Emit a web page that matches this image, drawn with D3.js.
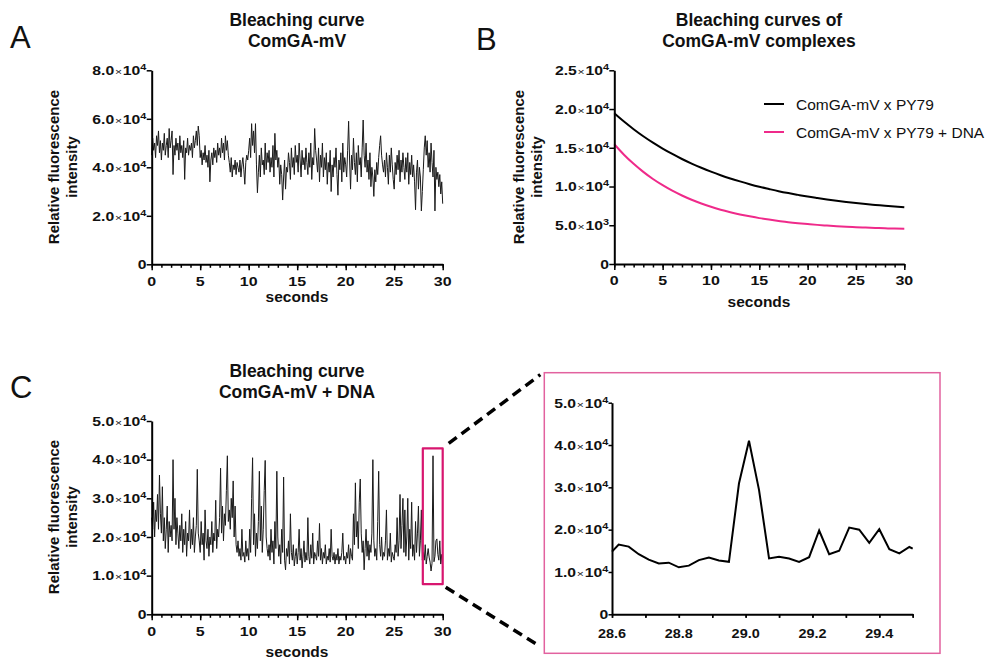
<!DOCTYPE html>
<html><head><meta charset="utf-8">
<script src="https://cdn.jsdelivr.net/npm/d3@7"></script>
<style>
body{margin:0;background:#fff}
svg{display:block}
text{font-family:"Liberation Sans",Arial,Helvetica,sans-serif}
</style>
</head><body>
<svg id="chart" width="991" height="662"></svg>
<script>
// ---------------- DATA ----------------
const sampleStep = 0.1; // seconds between trace samples (panels A and C)

const traceA = [
45000,52000,47000,50000,44000,53000,49000,55000,46000,51000,
43000,50000,47000,54000,45000,49000,52000,44000,56000,48000,
51000,55000,37000,49000,45000,52000,47000,50000,43000,53000,
46000,49000,44000,51000,35000,48000,46000,52000,45000,49000,
47000,50000,44000,53000,48000,51000,55000,49000,57000,53000,
44000,47000,41000,46000,43000,49000,42000,45000,40000,47000,
34000,43000,46000,41000,48000,44000,47000,42000,50000,45000,
48000,44000,52000,46000,50000,43000,53000,47000,51000,45000,
42000,38000,44000,36000,41000,39000,43000,37000,42000,40000,
38000,43000,36000,41000,44000,39000,33000,42000,45000,43000,
47000,52000,44000,58000,49000,55000,46000,58000,41000,29500,
38000,45000,36000,48000,41000,43000,37000,50000,39000,46000,
42000,47000,38000,44000,40000,49000,36000,54000,43000,47000,
40000,44000,33000,41000,37000,26500,36000,43000,31000,40000,
38000,46000,42000,35000,48000,40000,44000,37000,49000,42000,
45000,38000,50000,43000,36000,47000,41000,44000,39000,48000,
42000,37000,46000,40000,50000,35000,44000,41000,56000,47000,
43000,38000,48000,34000,45000,40000,50000,36000,44000,39000,
46000,33000,42000,38000,47000,30000,41000,36000,44000,40000,
48000,37000,28500,43000,39000,46000,34000,50000,38000,44000,
41000,36000,47000,59000,43000,31000,45000,39000,52000,42000,
37000,46000,34000,49000,41000,44000,36000,48000,59500,45000,
40000,50000,38000,43000,35000,46000,32000,40000,36000,28000,
39000,34000,42000,37000,44000,49000,53000,45000,41000,38000,
43000,36000,46000,40000,33000,45000,38000,48000,41000,35000,
31000,42000,37000,45000,39000,47000,34000,43000,38000,46000,
40000,35000,44000,38000,46000,33000,42000,37000,45000,36000,
41000,34000,22500,38000,43000,31000,40000,36000,22000,30000,
39000,48000,53000,45000,51000,40000,46000,38000,50000,42000,
36000,47000,22000,40000,35000,38000,32000,37000,29000,34000,
25000];

const traceC = [
25000,22000,29000,20000,27000,24000,31000,22000,36000,26000,
21000,33000,19000,25000,17000,22000,28000,16000,24000,20000,
23000,19000,40000,22000,30000,18000,25000,21000,17000,23000,
19000,26000,16000,22000,18000,24000,15000,21000,19000,27000,
17000,22000,18000,25000,16000,20000,23000,37500,21000,19000,
16000,24000,18000,21000,14000,27000,19000,17000,22000,15000,
20000,18000,24000,16000,21000,19000,29500,17000,22000,20000,
25000,37800,21000,28000,19000,26000,23000,32000,41000,24000,
27000,22000,30000,25000,34500,20000,28000,18000,16000,19000,
15000,17000,14000,22000,15000,16000,13500,19000,15000,17000,
14000,22000,16000,30000,40500,18000,26000,15000,21000,17000,
24000,37000,19000,28000,16000,22000,32000,39800,20000,17000,
15000,18000,14000,22000,16000,19000,13000,24000,17000,37000,
20000,15000,18000,13000,22000,16000,35500,14000,11500,17000,
15000,19000,13000,26000,16000,14000,18000,12500,15000,17000,
13000,16000,22000,14000,17000,12000,15000,19000,13500,16000,
14000,25000,15000,13000,18000,14500,21000,13000,16000,15000,
14000,19000,15000,23500,14000,17000,13000,16000,14500,18000,
13000,15000,14000,17000,13500,22000,15000,14000,16000,13000,
15500,14000,17000,13000,15000,14000,16000,21000,14000,15000,
13000,16000,14500,18000,13000,17000,15000,14000,26000,18000,
34000,20000,24000,17000,29000,35000,21000,16000,19000,11500,
17000,22000,15000,19000,14000,18000,16000,21000,40000,19000,
15000,17000,14000,24000,37000,18000,15000,20000,14000,16000,
15000,19000,27000,14000,17000,15000,21000,13500,16000,15000,
14000,18000,16000,25000,15000,19000,31000,17000,23000,30000,
16000,27000,15000,20000,30000,14000,22000,17000,29000,15000,
18000,14000,24000,16000,21000,28000,15000,19000,27000,14000,
16000,14000,18000,13000,15000,17000,14800,13500,11200,13200,
41000,13600,15000,19000,19500,15500,14000,19000,13000,15500,
12000];

const curveSeconds = [0,1,2,3,4,5,6,7,8,9,10,11,12,13,14,15,16,17,18,19,20,21,22,23,24,25,26,27,28,29,30];
const curvePY79 = [19450,18380,17400,16490,15660,14900,14200,13550,12960,12420,11920,11460,11040,10660,10300,9970,9680,9400,9150,8920,8700,8510,8330,8160,8010,7870,7740,7630,7520,7420,7330];
const curvePY79DNA = [15460,14110,12930,11890,10970,10170,9460,8840,8290,7810,7380,7010,6690,6400,6150,5920,5730,5560,5400,5270,5160,5050,4960,4880,4810,4750,4700,4650,4610,4570,4540];
const legendLabels = ["ComGA-mV x PY79", "ComGA-mV x PY79 + DNA"];

const zoomSeconds = [28.60,28.62,28.65,28.68,28.71,28.74,28.77,28.80,28.83,28.86,28.89,28.92,28.95,28.98,29.01,29.04,29.07,29.10,29.13,29.16,29.19,29.22,29.25,29.28,29.31,29.34,29.37,29.40,29.43,29.46,29.49,29.50];
const zoomValues = [14800,16500,16000,14200,12900,12000,12200,11100,11500,12800,13400,12700,12400,30900,41000,29400,13200,13600,13200,12400,13500,19800,14200,15000,20500,20000,16900,20100,15400,14400,15900,15500];

// highlighted window in panel C (data units)
const highlightSeconds = [27.95, 30.0];
const highlightValues = [7800, 42900];

const yTicksA = [0, 20000, 40000, 60000, 80000];
const yTicksB = [0, 5000, 10000, 15000, 20000, 25000];
const yTicksC = [0, 10000, 20000, 30000, 40000, 50000];
const yTicksZoom = [0, 10000, 20000, 30000, 40000, 50000];
const xMajorSec = [0, 5, 10, 15, 20, 25, 30];
const xMinorSec = [0,1,2,3,4,5,6,7,8,9,10,11,12,13,14,15,16,17,18,19,20,21,22,23,24,25,26,27,28,29,30];
const xTicksZoom = [28.6, 28.7, 28.8, 28.9, 29.0, 29.1, 29.2, 29.3, 29.4, 29.5];
const xLabelsZoom = [28.6, 28.8, 29.0, 29.2, 29.4];

const titleA = ["Bleaching curve", "ComGA-mV"];
const titleB = ["Bleaching curves of", "ComGA-mV complexes"];
const titleC = ["Bleaching curve", "ComGA-mV + DNA"];
const yTitle = ["Relative fluorescence", "intensity"];
const xTitle = "seconds";

// ---------------- DRAWING ----------------
const svg = d3.select("#chart");
const PINK = "#ef2a8a";
const RECT_PINK = "#d8166f";
const BOX_PINK = "#e2629f";

function sciParts(v){
  const e = Math.floor(Math.log10(v) + 1e-9);
  return {m: (v / Math.pow(10, e)).toFixed(1), e: String(e)};
}

function yAxis(y, xPos, ticks, tickLen){
  const g = svg.append("g").attr("transform", `translate(${xPos},0)`)
    .call(d3.axisLeft(y).tickValues(ticks).tickSize(tickLen).tickSizeOuter(0).tickFormat(""));
  g.select(".domain").attr("stroke", "#000").attr("stroke-width", 2);
  g.selectAll(".tick line").attr("stroke", "#000").attr("stroke-width", 1.5);
  g.selectAll(".tick").each(function(v){
    const tk = d3.select(this);
    tk.select("text").remove();
    const t = tk.append("g").attr("transform", `translate(${-tickLen - 0.3},4.3) scale(1.28,1)`)
      .append("text").attr("text-anchor", "end").attr("font-size", 12.3)
      .attr("font-weight", "bold").attr("fill", "#111");
    if (v === 0) { t.text("0"); return; }
    const p = sciParts(v);
    t.append("tspan").text(p.m);
    t.append("tspan").attr("font-weight", "normal").attr("font-size", 9.5).attr("dx", 0.6).text("×");
    t.append("tspan").attr("dx", 0.6).text("10");
    t.append("tspan").attr("font-size", 8.5).attr("dy", -5).text(p.e);
  });
  return g;
}

function xAxis(x, yPos, minor, major, labels, fmt, opts){
  const gMin = svg.append("g").attr("transform", `translate(0,${yPos})`)
    .call(d3.axisBottom(x).tickValues(minor).tickSize(opts.minLen).tickSizeOuter(0).tickFormat(""));
  gMin.select(".domain").attr("stroke", "#000").attr("stroke-width", 2);
  gMin.selectAll(".tick line").attr("stroke", "#000").attr("stroke-width", 1.5);
  const gMaj = svg.append("g").attr("transform", `translate(0,${yPos})`)
    .call(d3.axisBottom(x).tickValues(major).tickSize(opts.majLen).tickSizeOuter(0).tickFormat(""));
  gMaj.select(".domain").remove();
  gMaj.selectAll(".tick line").attr("stroke", "#000").attr("stroke-width", 1.5);
  const lab = svg.append("g");
  labels.forEach(v => {
    lab.append("g").attr("transform", `translate(${x(v)},${yPos + opts.labelDy}) scale(${opts.scale},1)`)
      .append("text").attr("text-anchor", "middle").attr("font-size", opts.size)
      .attr("font-weight", "bold").attr("fill", "#111").text(fmt(v));
  });
}

function titleBlock(lines, cx, y1, y2){
  const t = svg.append("text").attr("text-anchor", "middle").attr("font-size", 17.5)
    .attr("font-weight", "bold").attr("fill", "#111");
  t.append("tspan").attr("x", cx).attr("y", y1).text(lines[0]);
  t.append("tspan").attr("x", cx).attr("y", y2).text(lines[1]);
}

function yTitleBlock(xBase1, xBase2, cy){
  [xBase1, xBase2].forEach((xb, i) => {
    svg.append("text").attr("transform", `translate(${xb},${cy}) rotate(-90)`)
      .attr("text-anchor", "middle").attr("font-size", 15).attr("font-weight", "bold")
      .attr("fill", "#111").text(yTitle[i]);
  });
}

function panelLetter(ch, x, y){
  svg.append("text").attr("x", x).attr("y", y).attr("font-size", 31)
    .attr("fill", "#111").text(ch);
}

function xTitleText(cx, y){
  svg.append("text").attr("x", cx).attr("y", y).attr("text-anchor", "middle")
    .attr("font-size", 15.5).attr("font-weight", "bold").attr("fill", "#111").text(xTitle);
}

const traceStyle = p => p.attr("fill", "none").attr("stroke", "#1a1a1a")
  .attr("stroke-width", 1).attr("stroke-linejoin", "round");

// ---- Panel A ----
const xA = d3.scaleLinear().domain([0, 30]).range([151.7, 442.7]);
const yA = d3.scaleLinear().domain([0, 80000]).range([264.3, 70.3]);
svg.append("path").datum(traceA)
  .attr("d", d3.line().x((d, i) => xA(i * sampleStep)).y(d => yA(d))).call(traceStyle);
yAxis(yA, 151.7, yTicksA, 5);
xAxis(xA, 264.3, xMinorSec, xMajorSec, xMajorSec, d => String(d), {minLen: 3.5, majLen: 6, labelDy: 21.3, size: 12.5, scale: 1.28});
titleBlock(titleA, 297, 26, 46.5);
yTitleBlock(59, 77, 167);
panelLetter("A", 10, 48);
xTitleText(297, 302);

// ---- Panel B ----
const xB = d3.scaleLinear().domain([0, 30]).range([614.3, 904.3]);
const yB = d3.scaleLinear().domain([0, 25000]).range([264, 70.3]);
const lineB = d3.line().x((d, i) => xB(curveSeconds[i])).y(d => yB(d)).curve(d3.curveMonotoneX);
svg.append("path").datum(curvePY79).attr("d", lineB).attr("fill", "none").attr("stroke", "#000").attr("stroke-width", 2);
svg.append("path").datum(curvePY79DNA).attr("d", lineB).attr("fill", "none").attr("stroke", PINK).attr("stroke-width", 2);
yAxis(yB, 614.3, yTicksB, 5);
xAxis(xB, 264, xMinorSec, xMajorSec, xMajorSec, d => String(d), {minLen: 3.5, majLen: 6, labelDy: 21.3, size: 12.5, scale: 1.28});
titleBlock(titleB, 759, 26, 46.5);
yTitleBlock(524, 542, 167);
panelLetter("B", 476, 50);
xTitleText(759, 307);
// legend
[["#000", 104], [PINK, 132]].forEach(([c, ly], i) => {
  svg.append("line").attr("x1", 764).attr("x2", 784).attr("y1", ly).attr("y2", ly)
    .attr("stroke", c).attr("stroke-width", 2);
  svg.append("text").attr("x", 796).attr("y", ly + 5.5).attr("font-size", 15.5)
    .attr("fill", "#111").text(legendLabels[i]);
});

// ---- Panel C ----
const xC = d3.scaleLinear().domain([0, 30]).range([151.7, 442.7]);
const yC = d3.scaleLinear().domain([0, 50000]).range([614.3, 421]);
svg.append("path").datum(traceC)
  .attr("d", d3.line().x((d, i) => xC(i * sampleStep)).y(d => yC(d))).call(traceStyle);
yAxis(yC, 151.7, yTicksC, 5);
xAxis(xC, 614.3, xMinorSec, xMajorSec, xMajorSec, d => String(d), {minLen: 3.5, majLen: 6, labelDy: 21.3, size: 12.5, scale: 1.28});
titleBlock(titleC, 297, 376.5, 397.5);
yTitleBlock(59, 77, 517);
panelLetter("C", 10, 398);
xTitleText(297, 657);
// highlight rectangle
const hx0 = xC(highlightSeconds[0]), hx1 = xC(highlightSeconds[1]);
const hy0 = yC(highlightValues[1]), hy1 = yC(highlightValues[0]);
svg.append("rect").attr("x", hx0).attr("y", hy0).attr("width", hx1 - hx0).attr("height", hy1 - hy0)
  .attr("fill", "none").attr("stroke", RECT_PINK).attr("stroke-width", 2.2).attr("stroke-linejoin", "round");

// ---- Zoom panel ----
const box = {x0: 544.3, y0: 372.7, x1: 940, y1: 653.3};
svg.append("rect").attr("x", box.x0).attr("y", box.y0).attr("width", box.x1 - box.x0).attr("height", box.y1 - box.y0)
  .attr("fill", "none").attr("stroke", BOX_PINK).attr("stroke-width", 1.5);
// connectors
svg.append("line").attr("x1", hx1 + 6).attr("y1", hy0 - 5).attr("x2", box.x0 - 4).attr("y2", box.y0 + 2)
  .attr("stroke", "#000").attr("stroke-width", 3.5).attr("stroke-dasharray", "10,6");
svg.append("line").attr("x1", hx1 + 3).attr("y1", hy1 + 3).attr("x2", box.x0 - 6).attr("y2", box.y1 - 8)
  .attr("stroke", "#000").attr("stroke-width", 3.5).attr("stroke-dasharray", "10,6");

const xZ = d3.scaleLinear().domain([28.6, 29.5]).range([612, 912.7]);
const yZ = d3.scaleLinear().domain([0, 50000]).range([614.3, 402.7]);
svg.append("path").datum(zoomValues)
  .attr("d", d3.line().x((d, i) => xZ(zoomSeconds[i])).y(d => yZ(d)))
  .attr("fill", "none").attr("stroke", "#000").attr("stroke-width", 2).attr("stroke-linejoin", "miter");
yAxis(yZ, 612, yTicksZoom, 3.5);
xAxis(xZ, 614.3, xTicksZoom, xTicksZoom, xLabelsZoom, d => d.toFixed(1), {minLen: 3.5, majLen: 3.5, labelDy: 24, size: 13.5, scale: 1.07});
</script>
</body></html>
